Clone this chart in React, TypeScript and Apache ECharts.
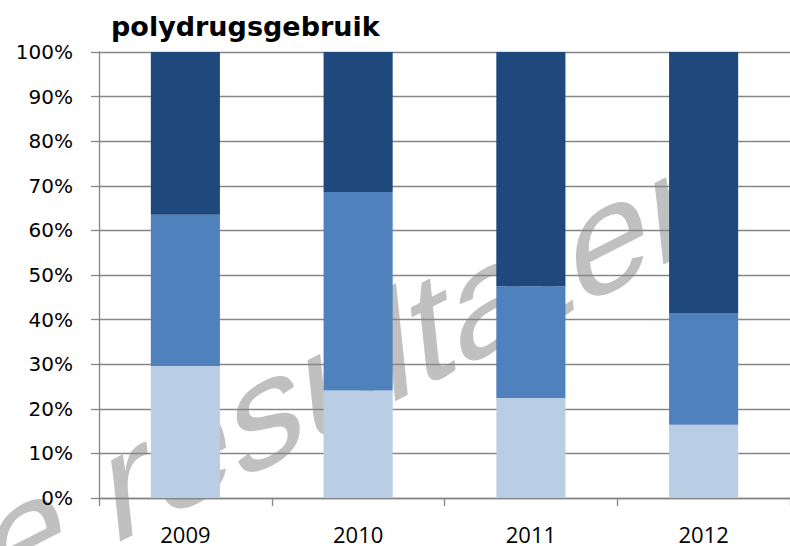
import React, { useEffect, useRef } from "react";
import * as echarts from "echarts";

const title = "polydrugsgebruik";
const years = ["2009", "2010", "2011", "2012"];
const lightValues = [29.6, 24.1, 22.4, 16.4];
const midValues = [33.9, 44.5, 25.1, 25.1];
const darkValues = [36.5, 31.4, 52.5, 58.5];
const watermark = "e resultaten";

const deg = (d: number) => (d * Math.PI) / 180;

export default function App() {
  const ref = useRef<HTMLDivElement>(null);
  useEffect(() => {
    if (!ref.current) return;
    const chart = echarts.init(ref.current, undefined, { renderer: "svg" });
    const gray = "#868686";
    const mk = (name: string, data: number[], color: string) => ({
      name,
      type: "bar",
      stack: "total",
      barWidth: "40%",
      data,
      itemStyle: { color },
      z: 5,
    });
    chart.setOption({
      animation: false,
      backgroundColor: "#ffffff",
      title: {
        text: title,
        left: 106,
        top: 8,
        textStyle: {
          fontFamily: "DejaVu Sans",
          fontWeight: "bold",
          fontSize: 27,
          color: "#000",
        },
      },
      graphic: [
        {
          type: "group",
          x: 356.6,
          y: 364.6,
          rotation: deg(59.58),
          scaleX: 1.1811,
          scaleY: 0.811,
          z: -100,
          silent: true,
          children: [
            {
              type: "text",
              x: 0,
              y: 0,
              rotation: deg(-42.94),
              z: -100,
              silent: true,
              style: {
                text: watermark,
                fontFamily: "Liberation Sans",
                fontSize: 155,
                fill: "#c0c0c0",
                align: "center",
                verticalAlign: "middle",
              },
            },
          ],
        },
      ],
      grid: { left: 99, top: 52, width: 693, height: 446, containLabel: false },
      xAxis: {
        type: "category",
        data: years,
        axisLine: { show: true, lineStyle: { color: gray, width: 1.3 } },
        axisTick: { show: true, length: 8, lineStyle: { color: gray, width: 1.3 } },
        axisLabel: {
          margin: 25,
          fontFamily: "Open Sans",
          fontSize: 22,
          lineHeight: 22,
          color: "#000",
        },
        splitLine: { show: false },
      },
      yAxis: {
        type: "value",
        min: 0,
        max: 100,
        interval: 10,
        axisLine: { show: true, lineStyle: { color: gray, width: 1.3 } },
        axisTick: { show: true, length: 8, lineStyle: { color: gray, width: 1.3 } },
        axisLabel: {
          margin: 26,
          formatter: "{value}%",
          fontFamily: "DejaVu Sans",
          fontSize: 20,
          color: "#000",
        },
        splitLine: { show: true, lineStyle: { color: gray, width: 1.3 } },
      },
      series: [
        mk("laag", lightValues, "#B9CDE5"),
        mk("midden", midValues, "#4F81BD"),
        mk("hoog", darkValues, "#1F497D"),
      ],
    });
    return () => chart.dispose();
  }, []);
  return <div ref={ref} style={{ width: 790, height: 546, position: "fixed", left: 0, top: 0 }} />;
}
